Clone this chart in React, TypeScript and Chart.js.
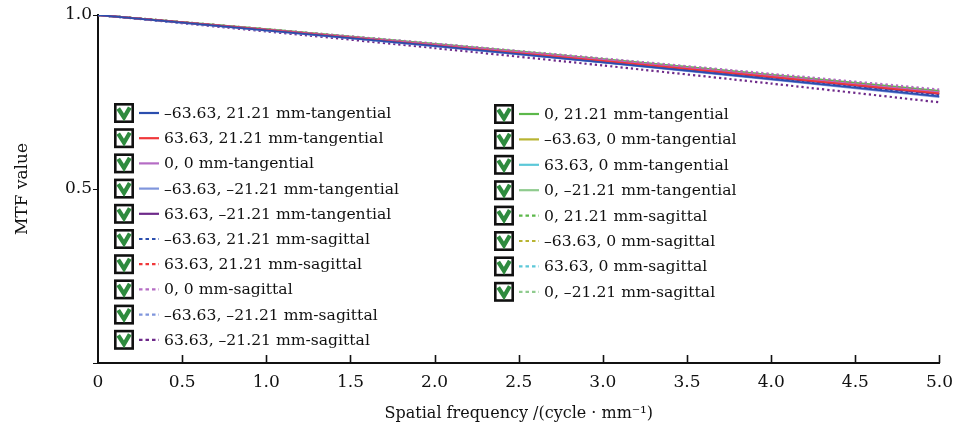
import React, { useEffect, useRef } from "react";
import { Chart, registerables } from "chart.js";

Chart.register(...registerables);

const FREQ = [0, 1, 2, 3, 4, 5];
const X_TICKS = [0, 0.5, 1, 1.5, 2, 2.5, 3, 3.5, 4, 4.5, 5];
const Y_TICKS = [0, 0.5, 1];

const LABELS = [
  "–63.63, 21.21 mm-tangential",
  "63.63, 21.21 mm-tangential",
  "0, 0 mm-tangential",
  "–63.63, –21.21 mm-tangential",
  "63.63, –21.21 mm-tangential",
  "–63.63, 21.21 mm-sagittal",
  "63.63, 21.21 mm-sagittal",
  "0, 0 mm-sagittal",
  "–63.63, –21.21 mm-sagittal",
  "63.63, –21.21 mm-sagittal",
  "0, 21.21 mm-tangential",
  "–63.63, 0 mm-tangential",
  "63.63, 0 mm-tangential",
  "0, –21.21 mm-tangential",
  "0, 21.21 mm-sagittal",
  "–63.63, 0 mm-sagittal",
  "63.63, 0 mm-sagittal",
  "0, –21.21 mm-sagittal",
];

const T1 = [1.0, 0.956, 0.911, 0.864, 0.816, 0.766];
const T2 = [1.0, 0.957, 0.913, 0.868, 0.822, 0.775];
const T3 = [1.0, 0.958, 0.915, 0.871, 0.825, 0.778];
const T4 = [1.0, 0.955, 0.91, 0.863, 0.814, 0.764];
const T5 = [1.0, 0.957, 0.913, 0.867, 0.821, 0.773];
const S1 = [1.0, 0.956, 0.912, 0.866, 0.819, 0.77];
const S2 = [1.0, 0.958, 0.915, 0.871, 0.825, 0.778];
const S3 = [1.0, 0.959, 0.918, 0.875, 0.831, 0.786];
const S4 = [1.0, 0.956, 0.911, 0.865, 0.817, 0.768];
const S5 = [1.0, 0.953, 0.905, 0.855, 0.803, 0.749];
const T6 = [1.0, 0.959, 0.917, 0.873, 0.828, 0.782];
const T7 = [1.0, 0.958, 0.915, 0.871, 0.825, 0.779];
const T8 = [1.0, 0.957, 0.913, 0.868, 0.821, 0.774];
const T9 = [1.0, 0.959, 0.917, 0.873, 0.828, 0.781];
const S6 = [1.0, 0.959, 0.917, 0.874, 0.829, 0.783];
const S7 = [1.0, 0.958, 0.915, 0.871, 0.825, 0.778];
const S8 = [1.0, 0.957, 0.913, 0.868, 0.821, 0.774];
const S9 = [1.0, 0.959, 0.917, 0.873, 0.828, 0.782];

const SERIES = [T1, T2, T3, T4, T5, S1, S2, S3, S4, S5, T6, T7, T8, T9, S6, S7, S8, S9];
const DOTTED = [false, false, false, false, false, true, true, true, true, true, false, false, false, false, true, true, true, true];
const COLORS = [
  "#2B4EAE", "#F0383A", "#B56CC4", "#7F95DC", "#6E2A8A",
  "#2B4EAE", "#F0383A", "#B56CC4", "#7F95DC", "#6E2A8A",
  "#5CB84A", "#B8B432", "#5CC8D8", "#8FCB8E",
  "#5CB84A", "#B8B432", "#5CC8D8", "#8FCB8E",
];

const FONT = "'DejaVu Serif', 'Liberation Serif', serif";

const legendPlugin = {
  id: "checkLegend",
  afterDatasetsDraw(chart: any) {
    const ctx = chart.ctx;
    ctx.save();
    chart.data.datasets.forEach((ds: any, i: number) => {
      const col = i < 10 ? 0 : 1;
      const row = col === 0 ? i : i - 10;
      const bx = col === 0 ? 114 : 494;
      const cy = (col === 0 ? 113 : 114) + row * (col === 0 ? 25.2 : 25.4);
      ctx.fillStyle = "#ffffff";
      ctx.fillRect(bx, cy - 10, 20, 20);
      ctx.strokeStyle = "#111111";
      ctx.lineWidth = 2.6;
      ctx.setLineDash([]);
      ctx.strokeRect(bx + 1.3, cy - 8.7, 17.4, 17.4);
      ctx.strokeStyle = "#2E8B3E";
      ctx.lineWidth = 4.2;
      ctx.lineCap = "butt";
      ctx.lineJoin = "miter";
      ctx.beginPath();
      ctx.moveTo(bx + 4.2, cy - 4.5);
      ctx.lineTo(bx + 10, cy + 4.5);
      ctx.lineTo(bx + 15.8, cy - 5.5);
      ctx.stroke();
      ctx.strokeStyle = ds.borderColor;
      ctx.lineWidth = 2.2;
      ctx.setLineDash(ds.borderDash && ds.borderDash.length ? [3.5, 3] : []);
      ctx.beginPath();
      ctx.moveTo(bx + 25, cy);
      ctx.lineTo(bx + 45, cy);
      ctx.stroke();
      ctx.setLineDash([]);
      ctx.fillStyle = "#111111";
      ctx.font = `15.6px ${FONT}`;
      ctx.textBaseline = "middle";
      ctx.textAlign = "left";
      ctx.fillText(ds.label, bx + 50, cy + 1);
    });
    ctx.restore();
  },
  afterDraw(chart: any) {
    const ctx = chart.ctx;
    const xs = chart.scales.x;
    const bottom = chart.chartArea.bottom;
    ctx.save();
    ctx.strokeStyle = "#111111";
    ctx.lineWidth = 1.6;
    X_TICKS.forEach((v) => {
      if (v === 0) return;
      const px = Math.round(xs.getPixelForValue(v)) + 0.5;
      ctx.beginPath();
      ctx.moveTo(px, bottom);
      ctx.lineTo(px, bottom - 8);
      ctx.stroke();
    });
    ctx.restore();
  },
};

export default function App() {
  const ref = useRef<HTMLCanvasElement | null>(null);
  useEffect(() => {
    document.body.style.margin = "0";
    const canvas = ref.current;
    if (!canvas) return;
    const chart = new Chart(canvas, {
      type: "line",
      data: {
        datasets: SERIES.map((s, i) => ({
          label: LABELS[i],
          data: FREQ.map((f, j) => ({ x: f, y: s[j] })),
          borderColor: COLORS[i],
          backgroundColor: COLORS[i],
          borderWidth: DOTTED[i] ? 2.2 : 1.8,
          borderDash: DOTTED[i] ? [2.2, 3] : [],
          pointRadius: 0,
          tension: 0.2,
          fill: false,
        })),
      },
      options: {
        responsive: false,
        animation: false,
        layout: { padding: { top: 15, right: 21, left: 0, bottom: 0 } },
        plugins: { legend: { display: false }, tooltip: { enabled: false } },
        scales: {
          x: {
            type: "linear",
            min: 0,
            max: 5,
            afterBuildTicks: (scale: any) => {
              scale.ticks = X_TICKS.map((v) => ({ value: v }));
            },
            afterFit: (scale: any) => {
              scale.height = 64;
            },
            ticks: {
              color: "#111111",
              font: { family: FONT, size: 17 },
              padding: 9,
              maxRotation: 0,
              autoSkip: false,
              callback: (v: any) => (Number(v) === 0 ? "0" : Number(v).toFixed(1)),
            },
            grid: { display: true, drawOnChartArea: false, drawTicks: false, color: "#111111" },
            border: { display: true, color: "#111111", width: 2 },
            title: {
              display: true,
              text: "Spatial frequency /(cycle · mm⁻¹)",
              color: "#111111",
              font: { family: FONT, size: 16 },
              padding: { top: 0, bottom: 4 },
            },
          },
          y: {
            type: "linear",
            min: 0,
            max: 1,
            afterBuildTicks: (scale: any) => {
              scale.ticks = Y_TICKS.map((v) => ({ value: v }));
            },
            afterFit: (scale: any) => {
              scale.width = 98;
            },
            ticks: {
              color: "#111111",
              font: { family: FONT, size: 17 },
              padding: 1,
              callback: (v: any) => (Number(v) === 0 ? "" : Number(v).toFixed(1)),
            },
            grid: { display: true, drawOnChartArea: false, drawTicks: true, tickLength: 5, color: "#111111" },
            border: { display: true, color: "#111111", width: 2 },
            title: {
              display: true,
              text: "MTF value",
              color: "#111111",
              font: { family: FONT, size: 17 },
              padding: { top: 12, bottom: 0 },
            },
          },
        },
      },
      plugins: [legendPlugin],
    } as any);
    return () => chart.destroy();
  }, []);
  return <canvas ref={ref} width={962} height={427} style={{ display: "block", width: 962, height: 427 }} />;
}
